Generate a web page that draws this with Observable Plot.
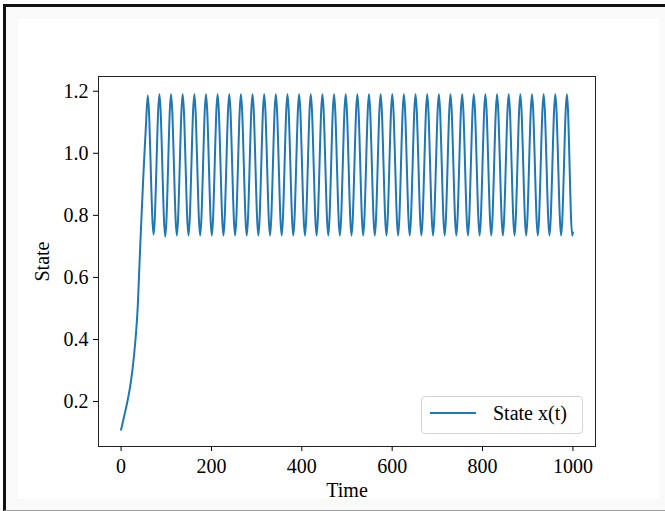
<!DOCTYPE html>
<html>
<head>
<meta charset="utf-8">
<script src="https://cdn.jsdelivr.net/npm/d3@7"></script>
<script src="https://cdn.jsdelivr.net/npm/@observablehq/plot@0.6"></script>
<style>
html, body { margin: 0; padding: 0; background: #fff; }
#page { position: relative; width: 665px; height: 511px; overflow: hidden; background: #fff; }
#bg { position: absolute; left: 3px; top: 4px; width: 662px; height: 507px; box-sizing: border-box;
      background: #f9f9f9; border-left: 3px solid #111; border-top: 3px solid #111; border-bottom: 1px solid #a0a0a0; }
#inner { position: absolute; left: 18px; top: 19px; width: 641px; height: 480px; background: #fff; }
#chart { position: absolute; left: 0; top: 0; }
#legend { position: absolute; left: 421px; top: 396px; width: 162px; height: 38px; box-sizing: border-box;
          border: 1px solid #d4d4d4; border-radius: 4px; background: rgba(255,255,255,0.8);
          font-family: "Liberation Serif", serif; font-size: 20px; color: #000; }
#legend .sw { position: absolute; left: 8px; top: 15px; width: 46px; height: 2px; }
#legend .lb { position: absolute; left: 71px; top: 5px; line-height: 22px; white-space: nowrap; }
</style>
</head>
<body>
<div id="page">
  <div id="bg"></div>
  <div id="inner"></div>
  <div id="chart"></div>
  <div id="legend"><div class="sw"></div><div class="lb"></div></div>
</div>
<script>
// Series: x(t) (initial rise, then alternating peaks / troughs)
const seriesName = "State x(t)";
const lineColor = "#1f77b4";
const riseTime  = [0, 4, 9.5, 16, 22, 28, 33, 37, 41, 45, 50, 55];
const riseValue = [0.109, 0.135, 0.17, 0.215, 0.267, 0.34, 0.42, 0.51, 0.653, 0.79, 0.95, 1.09];
const peakTime = [59.0, 84.8, 110.5, 136.3, 162.1, 187.9, 213.6, 239.4, 265.2, 290.9, 316.7, 342.5, 368.2,
  394.0, 419.8, 445.6, 471.3, 497.1, 522.9, 548.6, 574.4, 600.2, 625.9, 651.7, 677.5, 703.3, 729.0,
  754.8, 780.6, 806.3, 832.1, 857.9, 883.6, 909.4, 935.2, 961.0, 986.7];
const peakValue = [1.186, 1.19, 1.19, 1.19, 1.19, 1.19, 1.19, 1.19, 1.19, 1.19, 1.19, 1.19, 1.19,
  1.19, 1.19, 1.19, 1.19, 1.19, 1.19, 1.19, 1.19, 1.19, 1.19, 1.19, 1.19, 1.19, 1.19,
  1.19, 1.19, 1.19, 1.19, 1.19, 1.19, 1.19, 1.19, 1.19, 1.19];
const troughTime = [71.9, 97.7, 123.4, 149.2, 175.0, 200.8, 226.5, 252.3, 278.1, 303.8, 329.6, 355.4, 381.1,
  406.9, 432.7, 458.5, 484.2, 510.0, 535.8, 561.5, 587.3, 613.1, 638.8, 664.6, 690.4, 716.2, 741.9,
  767.7, 793.5, 819.2, 845.0, 870.8, 896.5, 922.3, 948.1, 973.9, 998.5];
const troughValue = [0.738, 0.731, 0.735, 0.735, 0.735, 0.735, 0.735, 0.735, 0.735, 0.735, 0.735, 0.735, 0.735,
  0.735, 0.735, 0.735, 0.735, 0.735, 0.735, 0.735, 0.735, 0.735, 0.735, 0.735, 0.735, 0.735, 0.735,
  0.735, 0.735, 0.735, 0.735, 0.735, 0.735, 0.735, 0.735, 0.735, 0.735];
const endTime = [1000];
const endValue = [0.745];

const xTicks = [0, 200, 400, 600, 800, 1000];
const yTicks = [0.2, 0.4, 0.6, 0.8, 1.0, 1.2];
const xLabel = "Time";
const yLabel = "State";

const data = [];
riseTime.forEach((t, i) => data.push({t, v: riseValue[i]}));
peakTime.forEach((t, i) => {
  data.push({t, v: peakValue[i]});
  data.push({t: troughTime[i], v: troughValue[i]});
});
endTime.forEach((t, i) => data.push({t, v: endValue[i]}));
data.sort((a, b) => a.t - b.t);

const chart = Plot.plot({
  width: 665,
  height: 511,
  marginLeft: 98,
  marginRight: 70,
  marginTop: 76,
  marginBottom: 65,
  style: { fontFamily: "Liberation Serif, serif", fontSize: "20px", background: "transparent", color: "#000" },
  x: { domain: [-50, 1050] },
  y: { domain: [0.0552, 1.2474] },
  marks: [
    Plot.frame({ stroke: "#222", strokeWidth: 1 }),
    Plot.axisX({ ticks: xTicks, tickSize: 5, tickPadding: 7, tickFormat: d => String(d),
                 label: xLabel, labelAnchor: "center", labelArrow: "none", labelOffset: 50 }),
    Plot.axisY({ ticks: yTicks, tickSize: 5, tickPadding: 5, tickFormat: d => d.toFixed(1),
                 label: yLabel, labelAnchor: "center", labelArrow: "none", labelOffset: 64 }),
    Plot.line(data, { x: "t", y: "v", stroke: lineColor, strokeWidth: 2, curve: "monotone-x" })
  ]
});
document.getElementById("chart").appendChild(chart);
document.querySelector("#legend .sw").style.background = lineColor;
document.querySelector("#legend .lb").textContent = seriesName;
</script>
</body>
</html>
